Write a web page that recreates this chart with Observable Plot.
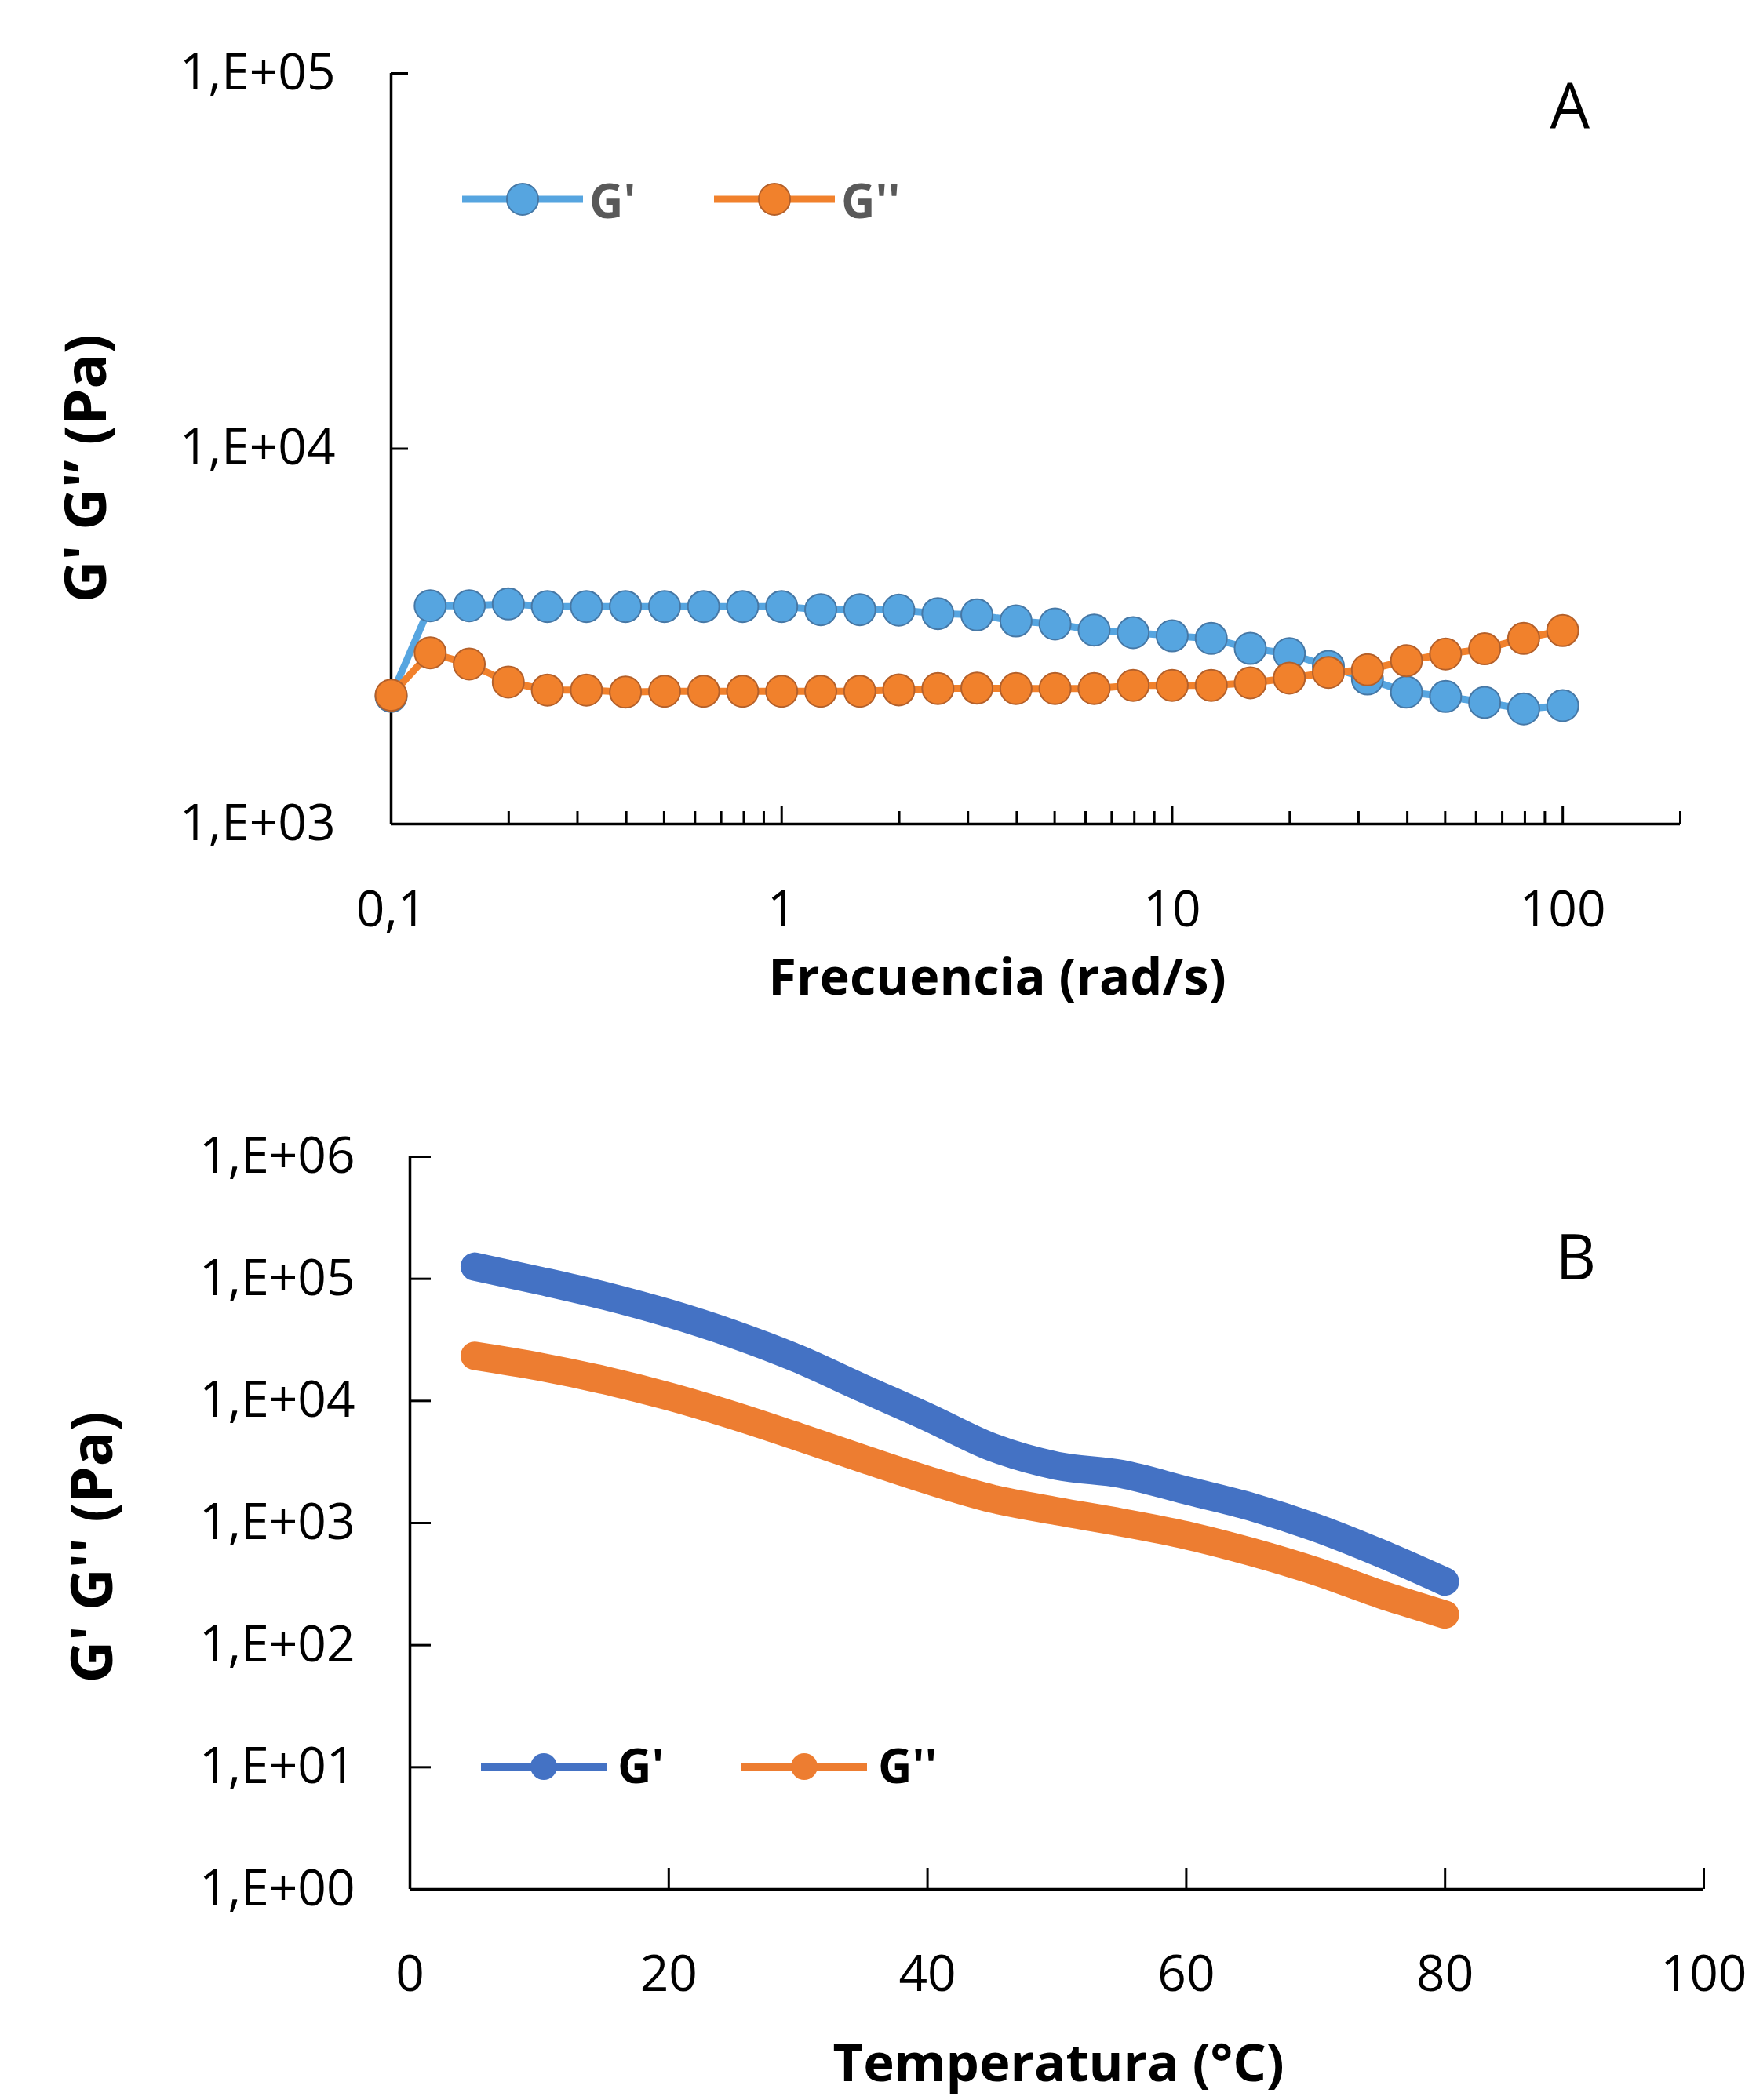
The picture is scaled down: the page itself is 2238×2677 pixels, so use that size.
<!DOCTYPE html>
<html>
<head>
<meta charset="utf-8">
<script src="https://cdn.jsdelivr.net/npm/d3@7"></script>
<script src="https://cdn.jsdelivr.net/npm/@observablehq/plot@0.6"></script>
<style>
  html, body { margin: 0; padding: 0; background: #fff; }
  #page { position: relative; width: 2238px; height: 2677px; overflow: hidden; font-family: "Open Sans", sans-serif; background: #fff; }
  #page > svg { display: block; }
  .legend-item { position: absolute; }
  .legend-text { position: absolute; font-family: "Open Sans", sans-serif; font-weight: 700; line-height: 1; white-space: pre; }
</style>
</head>
<body>
<div id="page"></div>
<script>
// ---------------- DATA ----------------
// Panel A: frequency sweep
const freqA = [0.1, 0.1259, 0.1585, 0.1995, 0.2512, 0.3162, 0.3981, 0.5012, 0.631, 0.7943,
               1, 1.259, 1.585, 1.995, 2.512, 3.162, 3.981, 5.012, 6.31, 7.943,
               10, 12.59, 15.85, 19.95, 25.12, 31.62, 39.81, 50.12, 63.1, 79.43, 100];
const gPrimeA = [2190, 3816, 3816, 3860, 3799, 3799, 3799, 3799, 3799, 3799,
                 3799, 3726, 3726, 3715, 3638, 3609, 3477, 3411, 3287, 3235,
                 3173, 3123, 2938, 2845, 2631, 2435, 2247, 2188, 2109, 2026, 2068];
const gDoublePrimeA = [2205, 2860, 2669, 2389, 2274, 2274, 2247, 2258, 2258, 2258,
                       2258, 2258, 2258, 2278, 2296, 2303, 2296, 2296, 2296, 2341,
                       2341, 2341, 2378, 2448, 2535, 2577, 2725, 2838, 2930, 3123, 3278];
const seriesNames = ["G'", "G''"];
const xTicksA = [0.1, 1, 10, 100];
const xTickLabelsA = ["0,1", "1", "10", "100"];
const xMinorTicksA = [0.2, 0.3, 0.4, 0.5, 0.6, 0.7, 0.8, 0.9, 2, 3, 4, 5, 6, 7, 8, 9,
                      20, 30, 40, 50, 60, 70, 80, 90, 200];
const xDomainA = [0.1, 200];
const yTicksA = [1000, 10000, 100000];
const yTickLabelsA = ["1,E+03", "1,E+04", "1,E+05"];
const titleXA = "Frecuencia (rad/s)";
const titleYA = "G' G'\u2019 (Pa)";

// Panel B: temperature sweep
const tempB = [5, 10, 15, 20, 25, 30, 35, 40, 45, 50, 55, 60, 65, 70, 75, 80];
const gPrimeB = [125900, 96600, 72800, 52200, 35200, 22100, 12700, 7380, 4170, 2940,
                 2520, 1850, 1360, 916, 566, 331];
const gDoublePrimeB = [23400, 19100, 14800, 10900, 7600, 5090, 3360, 2250, 1580, 1250,
                       1010, 794, 582, 403, 261, 178];
const xTicksB = [0, 20, 40, 60, 80, 100];
const xTickLabelsB = ["0", "20", "40", "60", "80", "100"];
const yTicksB = [1, 10, 100, 1000, 10000, 100000, 1000000];
const yTickLabelsB = ["1,E+00", "1,E+01", "1,E+02", "1,E+03", "1,E+04", "1,E+05", "1,E+06"];
const titleXB = "Temperatura (\u00B0C)";
const titleYB = "G' G'' (Pa)";
const panelLabels = ["A", "B"];

// ---------------- STYLE ----------------
const colorsA = ["#56A5E0", "#F1812C"];
const bordersA = ["#4678A6", "#B4602A"];
const colorsB = ["#4472C4", "#ED7D31"];
const W = 2238;
const FONT = "Open Sans";

const page = document.getElementById("page");
const fmt = (ticks, labels) => (d) => labels[ticks.indexOf(d)];

// ---------------- PANEL A ----------------
const mA = {h: 1290, ml: 498, mr: 97, mt: 93, mb: 240};
const innerWA = W - mA.ml - mA.mr;
const innerHA = mA.h - mA.mt - mA.mb;
const dataA = [gPrimeA, gDoublePrimeA].map((vals) => freqA.map((f, i) => ({f, v: vals[i]})));

const marksA = [
  Plot.axisX(xTicksA, {tickSize: 0, tickPadding: 85, fontSize: 64, tickFormat: fmt(xTicksA, xTickLabelsA), label: null}),
  Plot.axisY(yTicksA, {tickSize: 0, tickPadding: 71, fontSize: 64, tickFormat: fmt(yTicksA, yTickLabelsA), label: null}),
  Plot.ruleY([yTicksA[0]], {stroke: "#000", strokeWidth: 3.5}),
  Plot.ruleX([xDomainA[0]], {stroke: "#000", strokeWidth: 3.5}),
  Plot.tickX(xTicksA, {x: (d) => d, insetTop: innerHA - 22, stroke: "#000", strokeWidth: 3}),
  Plot.tickX(xMinorTicksA, {x: (d) => d, insetTop: innerHA - 16, stroke: "#000", strokeWidth: 3}),
  Plot.tickY(yTicksA, {y: (d) => d, insetRight: innerWA - 22, stroke: "#000", strokeWidth: 3}),
  Plot.text([titleXA], {frameAnchor: "bottom", dx: -49, dy: 217, lineAnchor: "bottom", fontSize: 65, fontWeight: "bold", fill: "#000"}),
  Plot.text([titleYA], {frameAnchor: "left", rotate: -90, dx: -387, dy: 25, lineAnchor: "middle", textAnchor: "middle", fontSize: 74, fontWeight: "bold", fill: "#000"}),
  Plot.text([panelLabels[0]], {frameAnchor: "top-right", dx: -166, dy: 13, lineAnchor: "top", textAnchor: "start", fontSize: 80, fill: "#000"})
];
dataA.forEach((d, i) => {
  marksA.push(Plot.line(d, {x: "f", y: "v", stroke: colorsA[i], strokeWidth: 9}));
  marksA.push(Plot.dot(d, {x: "f", y: "v", r: 20, fill: colorsA[i], stroke: bordersA[i], strokeWidth: 2}));
});

const plotA = Plot.plot({
  width: W, height: mA.h,
  marginLeft: mA.ml, marginRight: mA.mr, marginTop: mA.mt, marginBottom: mA.mb,
  style: {fontFamily: FONT, background: "#fff", color: "#000"},
  x: {type: "log", domain: xDomainA},
  y: {type: "log", domain: [yTicksA[0], yTicksA[yTicksA.length - 1]]},
  marks: marksA
});
page.appendChild(plotA);

// ---------------- PANEL B ----------------
const topB = mA.h;
const mB = {h: 1387, ml: 522, mr: 67, mt: 184, mb: 269};
const innerWB = W - mB.ml - mB.mr;
const innerHB = mB.h - mB.mt - mB.mb;
const dataB = [gPrimeB, gDoublePrimeB].map((vals) => tempB.map((t, i) => ({t, v: vals[i]})));

const marksB = [
  Plot.axisX(xTicksB, {tickSize: 0, tickPadding: 84, fontSize: 64, tickFormat: fmt(xTicksB, xTickLabelsB), label: null}),
  Plot.axisY(yTicksB, {tickSize: 0, tickPadding: 70, fontSize: 64, tickFormat: fmt(yTicksB, yTickLabelsB), label: null}),
  Plot.ruleY([yTicksB[0]], {stroke: "#000", strokeWidth: 3.5}),
  Plot.ruleX([xTicksB[0]], {stroke: "#000", strokeWidth: 3.5}),
  Plot.tickX(xTicksB, {x: (d) => d, insetTop: innerHB - 27, stroke: "#000", strokeWidth: 3}),
  Plot.tickY(yTicksB, {y: (d) => d, insetRight: innerWB - 27, stroke: "#000", strokeWidth: 3}),
  Plot.text([titleXB], {frameAnchor: "bottom", dx: 2, dy: 244, lineAnchor: "bottom", fontSize: 67, fontWeight: "bold", fill: "#000"}),
  Plot.text([titleYB], {frameAnchor: "left", rotate: -90, dx: -403, dy: 31, lineAnchor: "middle", textAnchor: "middle", fontSize: 74, fontWeight: "bold", fill: "#000"}),
  Plot.text([panelLabels[1]], {frameAnchor: "top-right", dx: -189, dy: 100, lineAnchor: "top", textAnchor: "start", fontSize: 80, fill: "#000"})
];
dataB.forEach((d, i) => {
  marksB.push(Plot.line(d, {x: "t", y: "v", stroke: colorsB[i], strokeWidth: 36, strokeLinecap: "round", strokeLinejoin: "round", curve: "monotone-x"}));
});

const plotB = Plot.plot({
  width: W, height: mB.h,
  marginLeft: mB.ml, marginRight: mB.mr, marginTop: mB.mt, marginBottom: mB.mb,
  style: {fontFamily: FONT, background: "#fff", color: "#000"},
  x: {type: "linear", domain: [xTicksB[0], xTicksB[xTicksB.length - 1]]},
  y: {type: "log", domain: [yTicksB[0], yTicksB[yTicksB.length - 1]]},
  marks: marksB
});
page.appendChild(plotB);

// ---------------- LEGENDS (HTML overlays) ----------------
function addLegend(cfg) {
  seriesNames.forEach((name, i) => {
    const left = cfg.start + i * cfg.spacing;
    const svgH = cfg.r * 2 + 8;
    const item = d3.select(page).append("div").attr("class", "legend-item")
      .style("left", left + "px").style("top", (cfg.cy - svgH / 2) + "px");
    const svg = item.append("svg").attr("width", cfg.lineLen).attr("height", svgH).style("display", "block");
    svg.append("line").attr("x1", 0).attr("x2", cfg.lineLen).attr("y1", svgH / 2).attr("y2", svgH / 2)
      .attr("stroke", cfg.colors[i]).attr("stroke-width", cfg.lineW);
    svg.append("circle").attr("cx", cfg.lineLen / 2).attr("cy", svgH / 2).attr("r", cfg.r)
      .attr("fill", cfg.colors[i]).attr("stroke", cfg.borders ? cfg.borders[i] : "none").attr("stroke-width", cfg.borders ? 2 : 0);
    d3.select(page).append("div").attr("class", "legend-text")
      .style("left", (left + cfg.textOffset) + "px")
      .style("top", (cfg.baseline - 0.888 * cfg.fontSize) + "px")
      .style("font-size", cfg.fontSize + "px")
      .style("color", cfg.textColor)
      .text(name);
  });
}
addLegend({start: 589, spacing: 321, lineLen: 154, textOffset: 162, cy: 254, baseline: 278, r: 20, lineW: 9,
           fontSize: 60, textColor: "#595959", colors: colorsA, borders: bordersA});
addLegend({start: 613, spacing: 332, lineLen: 160, textOffset: 174, cy: 2252, baseline: 2273, r: 17, lineW: 10,
           fontSize: 60, textColor: "#000", colors: colorsB, borders: null});
</script>
</body>
</html>
